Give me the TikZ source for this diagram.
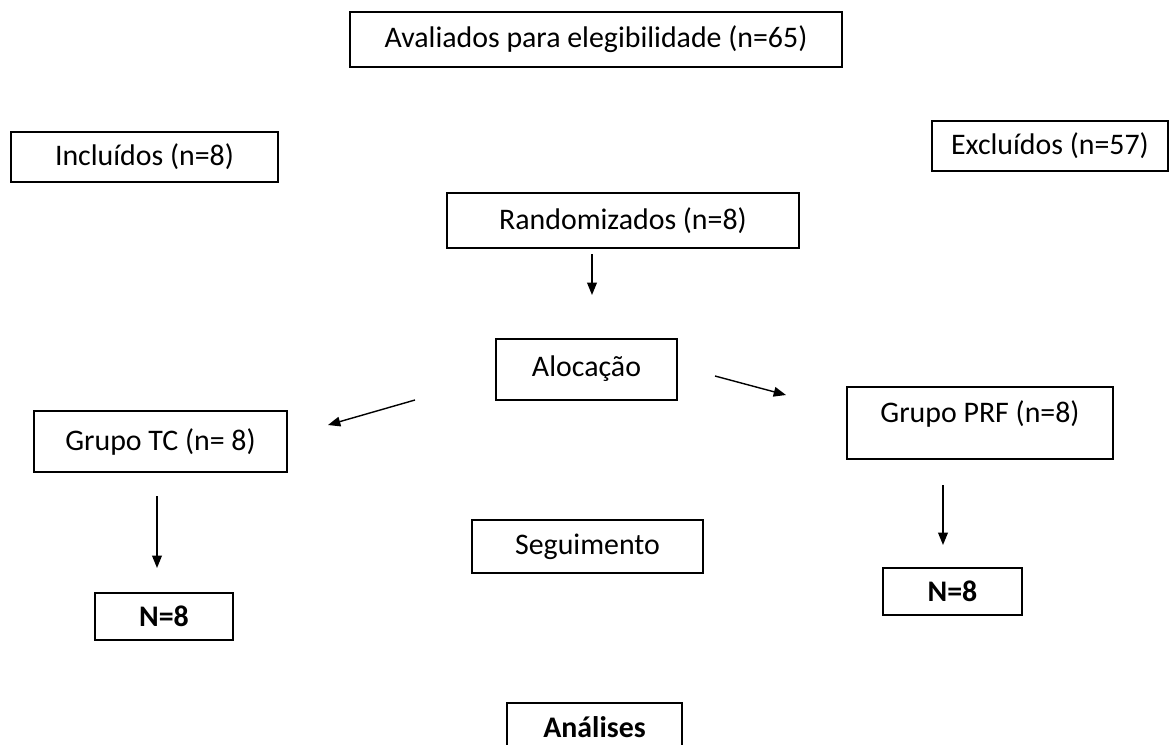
\documentclass[tikz,border=0pt]{standalone}
\usepackage{fontspec}
\setmainfont{Carlito}
\usetikzlibrary{arrows.meta}

\begin{document}
\begin{tikzpicture}[x=0.02cm,y=-0.02cm,
    caixa/.style={draw,line width=0.8pt,inner sep=0pt,font={\fontsize{17}{20}\selectfont}},
    negrito/.style={font={\fontsize{17}{20}\selectfont\bfseries}},
    seta/.style={line width=0.8pt,-{Triangle[length=7pt,width=5.5pt]}}]
\useasboundingbox (0,0) rectangle (1170,744);

\node[caixa,minimum width=9.84cm,minimum height=1.1cm] (aval) at (596,39.5) {Avaliados para elegibilidade\ (n=65)};
\node[caixa,minimum width=5.34cm,minimum height=1cm] (incl) at (144.5,157) {Incluídos (n=8)};
\node[caixa,minimum width=4.72cm,minimum height=1cm] (excl) at (1050,146) {Excluídos (n=57)};
\node[caixa,minimum width=7.04cm,minimum height=1.1cm] (rand) at (623,220.5) {Randomizados (n=8)};
\node[caixa,minimum width=3.62cm,minimum height=1.22cm,text depth=0.12cm] (aloc) at (586.5,369.5) {Alocação};
\node[caixa,minimum width=5.06cm,minimum height=1.22cm] (tc) at (160.5,441.5) {Grupo TC (n= 8)};
\node[caixa,minimum width=5.32cm,minimum height=1.44cm,text depth=0.45cm] (prf) at (980,423) {Grupo PRF (n=8)};
\node[caixa,negrito,minimum width=2.76cm,minimum height=0.94cm] (ntc) at (164,616.5) {N=8};
\node[caixa,negrito,minimum width=2.78cm,minimum height=0.94cm] (nprf) at (952.5,591.5) {N=8};
\node[caixa,minimum width=4.62cm,minimum height=1.06cm] (seg) at (587.5,546.5) {Seguimento};
\node[caixa,negrito,minimum width=3.5cm,minimum height=1.2cm,text depth=0.25cm] (anal) at (594.5,733) {Análises};

% pontas das setas
\coordinate (r1) at (592,254);  \coordinate (r2) at (592,295);
\coordinate (e1) at (415,400);  \coordinate (e2) at (328,425);
\coordinate (d1) at (715,376);  \coordinate (d2) at (786,395);
\coordinate (t1) at (157,496);  \coordinate (t2) at (157,568);
\coordinate (p1) at (943,485);  \coordinate (p2) at (943,545);

\draw[seta] (r1)--(r2);
\draw[seta] (e1)--(e2);
\draw[seta] (d1)--(d2);
\draw[seta] (t1)--(t2);
\draw[seta] (p1)--(p2);

\end{tikzpicture}
\end{document}
